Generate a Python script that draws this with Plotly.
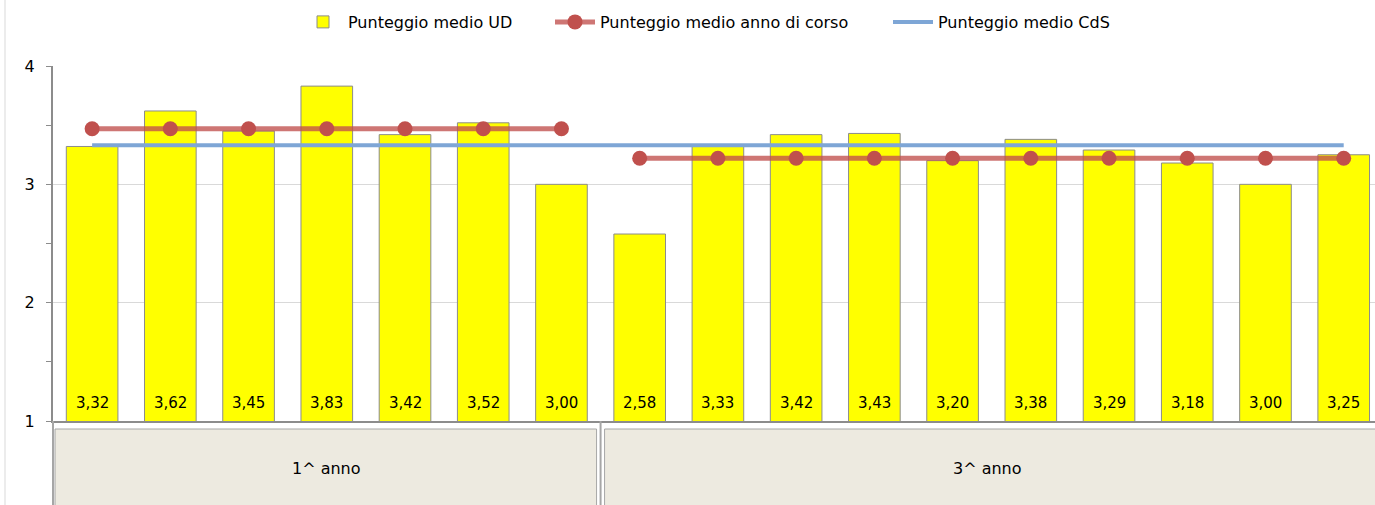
import plotly.graph_objects as go

# ---- data ----
ud_labels = ["3,32", "3,62", "3,45", "3,83", "3,42", "3,52", "3,00",
             "2,58", "3,33", "3,42", "3,43", "3,20", "3,38", "3,29", "3,18", "3,00", "3,25"]
ud_values = [3.32, 3.62, 3.45, 3.83, 3.42, 3.52, 3.00,
             2.58, 3.33, 3.42, 3.43, 3.20, 3.38, 3.29, 3.18, 3.00, 3.25]
group_names = ["1^ anno", "3^ anno"]
group_sizes = [7, 10]
anno_means = [3.47, 3.22]
cds_mean = 3.33
y_ticks = [1, 2, 3, 4]

# ---- geometry ----
W, H = 1375, 505
ML, MR, MT, MB = 53, 0, 66, 84
PW, PH = W - ML - MR, H - MT - MB
XMIN, XMAX = -0.5, 16.40
UNIT = PW / (XMAX - XMIN)

def py(px_y):  # pixel y -> paper y
    return (H - MB - px_y) / PH

def pxp(px_x):  # pixel x -> paper x
    return (px_x - ML) / PW

def dx2p(xv):  # data x -> paper x
    return (xv - XMIN) / (XMAX - XMIN)

FONT = "DejaVu Sans"
x_all = list(range(len(ud_values)))

fig = go.Figure()
fig.add_trace(go.Bar(
    x=x_all, y=ud_values, name="Punteggio medio UD", legend="legend",
    marker=dict(color="#FFFF00", line=dict(color="#8c8c8c", width=1)),
    width=0.66,
))

start = 0
for gi, (size, m) in enumerate(zip(group_sizes, anno_means)):
    xs = x_all[start:start + size]
    fig.add_trace(go.Scatter(
        x=xs, y=[m] * size, mode="lines+markers", legend="legend2",
        name="Punteggio medio anno di corso", showlegend=(gi == 0),
        line=dict(color="rgba(192,80,77,0.78)", width=5),
        marker=dict(color="#C0504D", size=15),
    ))
    start += size

fig.add_trace(go.Scatter(
    x=[x_all[0], x_all[-1]], y=[cds_mean, cds_mean], mode="lines", legend="legend3",
    name="Punteggio medio CdS",
    line=dict(color="#7EA6D6", width=4),
))

annotations = []
for xi, lab in zip(x_all, ud_labels):
    annotations.append(dict(
        x=xi, y=1, xref="x", yref="y", text=lab, showarrow=False,
        yanchor="bottom", yshift=7, font=dict(family=FONT, size=15, color="black"),
    ))

shapes = []
# left chart border
shapes.append(dict(type="line", xref="paper", yref="paper",
                   x0=pxp(5), x1=pxp(5), y0=py(0), y1=py(H),
                   line=dict(color="#d9d9d9", width=1)))
start = 0
gap = 4 / UNIT
for gi, (name, size) in enumerate(zip(group_names, group_sizes)):
    x0 = start - 0.5
    x1 = min(start + size - 0.5, XMAX)
    bx0 = x0 + (gap if gi > 0 else 2 / UNIT)
    bx1p = dx2p(x1 - gap) if x1 < XMAX else 1.02
    shapes.append(dict(type="rect", xref="paper", yref="paper",
                       x0=dx2p(bx0), x1=bx1p, y0=py(429), y1=py(H + 5),
                       fillcolor="#EDEAE0", line=dict(color="#a6a6a6", width=1),
                       layer="below"))
    if x1 < XMAX:
        shapes.append(dict(type="line", xref="x", yref="paper",
                           x0=x1, x1=x1, y0=py(421), y1=py(H + 5),
                           line=dict(color="#a6a6a6", width=2)))
    cx = (x0 + min(x1, XMAX)) / 2
    annotations.append(dict(
        x=cx, y=py(468), xref="x", yref="paper", text=name, showarrow=False,
        yanchor="middle", font=dict(family=FONT, size=16, color="black"),
    ))
    start += size
# left axis extension into category area
shapes.append(dict(type="line", xref="paper", yref="paper",
                   x0=0, x1=0, y0=0, y1=py(H + 5),
                   line=dict(color="#a6a6a6", width=2)))

leg_common = dict(orientation="h", yanchor="middle", y=py(22), xanchor="left",
                  font=dict(family=FONT, size=16, color="black"), itemwidth=40,
                  itemclick=False, bgcolor="rgba(0,0,0,0)")

fig.update_layout(
    width=W, height=H,
    margin=dict(l=ML, r=MR, t=MT, b=MB),
    paper_bgcolor="white", plot_bgcolor="white",
    showlegend=True,
    legend=dict(leg_common, x=pxp(298)),
    legend2=dict(leg_common, x=pxp(550)),
    legend3=dict(leg_common, x=pxp(888)),
    font=dict(family=FONT, size=16, color="black"),
    annotations=annotations,
    shapes=shapes,
    xaxis=dict(range=[XMIN, XMAX], showticklabels=False, ticks="", showgrid=False,
               zeroline=False, showline=True, linecolor="#8c8c8c", linewidth=2),
    yaxis=dict(range=[1, 4], tickvals=y_ticks, ticks="outside", ticklen=5, tickcolor="#8c8c8c",
               showgrid=True, gridcolor="#d9d9d9", gridwidth=1, zeroline=False,
               showline=True, linecolor="#8c8c8c", linewidth=2,
               tickfont=dict(family=FONT, size=16, color="black"),
               ticklabelstandoff=8,
               minor=dict(dtick=0.5, ticks="outside", ticklen=5, tickcolor="#8c8c8c", showgrid=False)),
)

fig.write_html("out.html", config={"displayModeBar": False},
               post_script="document.body.style.margin='0';document.body.style.overflow='hidden';")
